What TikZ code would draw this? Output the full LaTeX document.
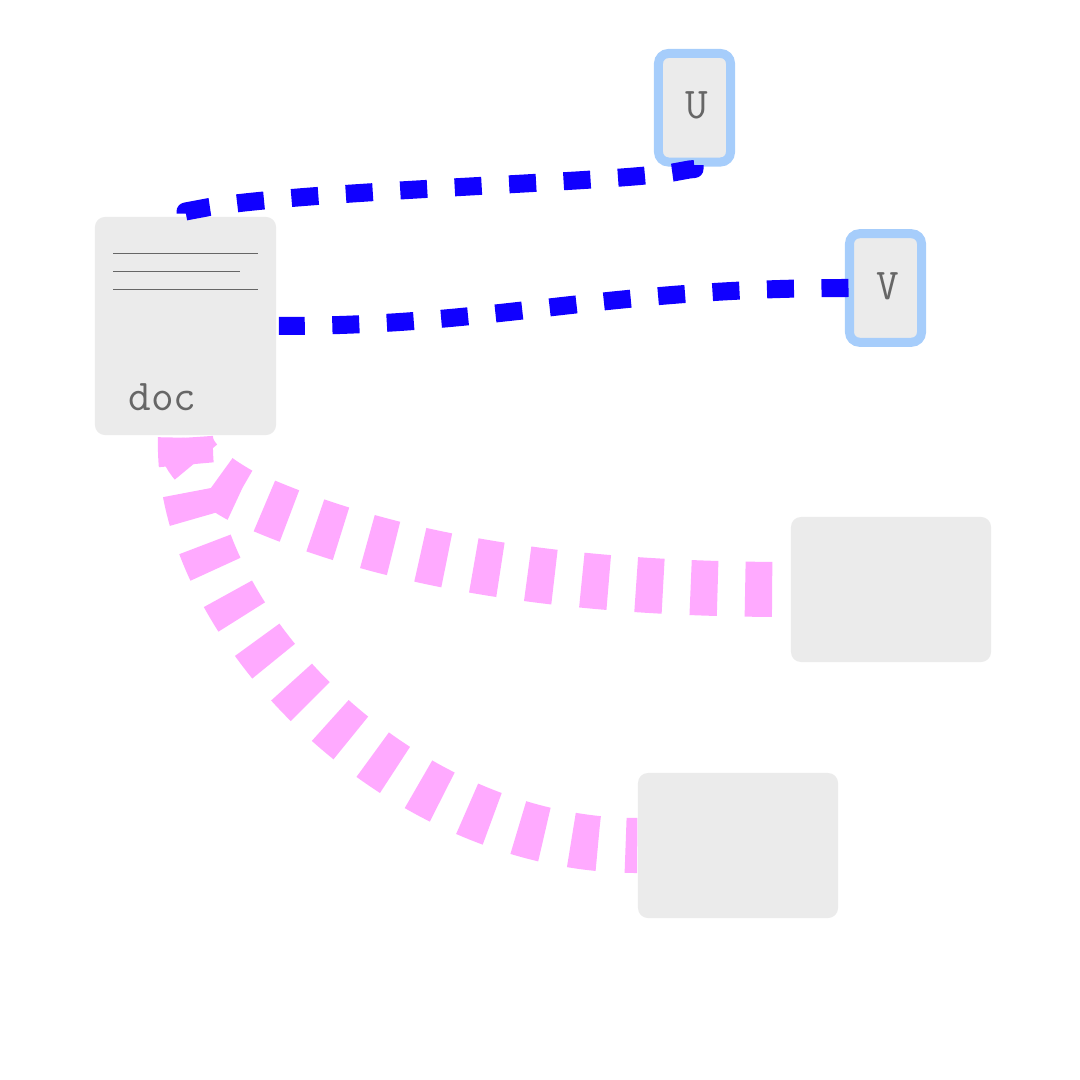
\documentclass[tikz,border=0pt]{standalone}
\usepackage{tikz}
\usetikzlibrary{calc,backgrounds}
\definecolor{boxgray}{HTML}{EBEBEB}
\definecolor{rimblue}{HTML}{A6CDFB}
\definecolor{textgray}{HTML}{666666}
\definecolor{linkblue}{HTML}{1000FF}
\definecolor{linkpink}{HTML}{FFAAFF}
\tikzset{
  card/.style={fill=boxgray,rounded corners=0.1cm,inner sep=0pt},
  tagcard/.style={card,draw=rimblue,line width=0.09cm,minimum width=0.72cm,minimum height=1.085cm},
  blankcard/.style={card,minimum width=2cm,minimum height=1.45cm},
  tagtext/.style={text=textgray,font=\fontsize{12.5}{14}\ttfamily,inner sep=0pt},
  textline/.style={draw=textgray,line width=0.015cm},
  bluelink/.style={draw=linkblue,line width=0.18cm,line join=round,dash pattern=on 0.27cm off 0.275cm},
  pinklink/.style={draw=linkpink,line width=0.55cm,dash pattern=on 0.27cm off 0.275cm}
}
\begin{document}
\begin{tikzpicture}[x=0.01cm,y=-0.01cm]
	\useasboundingbox (0,0) rectangle (1080,1080);
	%boites
	\node[card,minimum width=1.81cm,minimum height=2.18cm] (doc) at (185.5,326) {};
	\node[tagcard] (U) at (694.5,107.75) {};
	\node[tagcard] (V) at (885.5,288) {};
	\node[blankcard] (right) at (891,589.5) {};
	\node[blankcard] (lower) at (738,845.5) {};
	%textes
	\node[tagtext] (doclabel) at (162.5,397) {doc};
	\node[tagtext] (Ulabel) at (697,105) {U};
	\node[tagtext] (Vlabel) at (888,286) {V};
	\draw[textline] (113,253.5) -- (258,253.5)
		(113,271.5) -- (240,271.5)
		(113,289.5) -- (258,289.5);
	%liens roses sous les boites
	\begin{scope}[on background layer]
		\coordinate (docfoot) at ($(doc.south)+(0,2)$);
		\draw[pinklink] (docfoot) .. controls (185.5,458) and (208,477) .. (238.6,494.5)
			.. controls (400,570) and (600,589.5) .. (right.west);
		\draw[pinklink] (docfoot) .. controls (180,620) and (396,845.5) .. (lower.west);
	\end{scope}
	%liens bleus
	\coordinate (dochead) at ($(doc.north)+(0,-2)$);
	\coordinate (Ufoot) at ($(U.south)+(0,-1.5)$);
	\coordinate (Vside) at ($(V.west)+(3.5,0)$);
	\coordinate (docside) at ($(doc.east)+(2,0)$);
	\draw[bluelink,dash phase=0.005cm] (Ufoot) -- (694.5,169) -- (689.3,169.5)
		-- (673,172.5)
		.. controls (600,183) and (320,190) .. (209.5,207)
		-- (185.5,211.5) -- (dochead);
	\draw[bluelink] (Vside) .. controls (600,288) and (500,326) .. (docside);
\end{tikzpicture}
\end{document}
